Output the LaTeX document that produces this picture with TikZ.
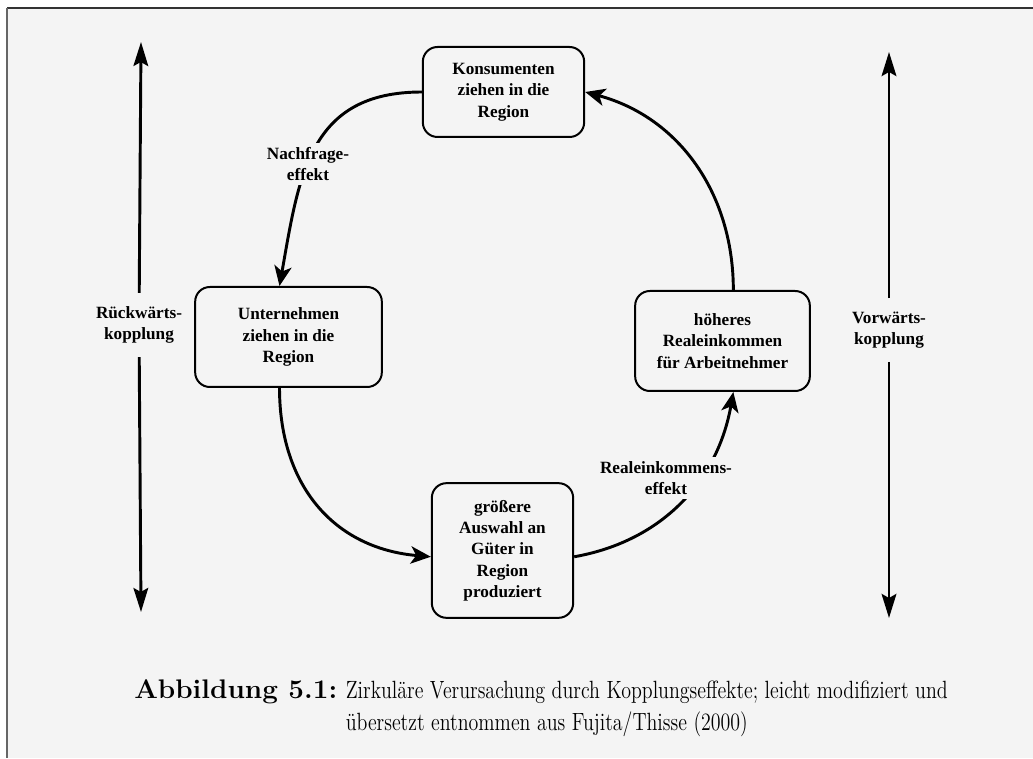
\documentclass[tikz,border=0pt]{standalone}
\usepackage{fontspec}
\usepackage{graphicx}
\newfontfamily\diafont{Liberation Serif}
\usetikzlibrary{arrows.meta}
\definecolor{bg}{gray}{0.955}
\tikzset{
  box/.style={draw, line width=1.5pt, rounded corners=11pt, align=center,
    font=\diafont\bfseries\fontsize{12.9}{16}\selectfont, inner sep=2pt},
  lab/.style={align=center, font=\diafont\bfseries\fontsize{12.9}{16}\selectfont,
    fill=bg, inner sep=3pt},
  sidelab/.style={align=center, font=\diafont\bfseries\fontsize{12.9}{16}\selectfont,
    inner xsep=2pt, inner ysep=10pt},
  arr/.style={line width=2.2pt, -{Stealth[length=15pt,width=13pt,inset=4pt]}},
  dbl/.style={line width=2.2pt, -{Stealth[length=18pt,width=11pt,inset=3pt]}},
  frameline/.style={line width=1.6pt},
  captext/.style={anchor=base west, inner sep=0pt},
}
\begin{document}
\begin{tikzpicture}[x=0.75pt,y=0.75pt]
\useasboundingbox (0,0) rectangle (1033,758);
\fill[bg] (7,0) rectangle (1033,750);
\draw[frameline, black!80] (7,750) -- (1033,750);
\draw[frameline, black!60] (7,750) -- (7,0);

% boxes
\node[box, minimum width=121pt, minimum height=67.5pt] (K) at (503.5,666) {Konsumenten\\ziehen in die\\Region};
\node[box, minimum width=140pt, minimum height=75pt] (U) at (288.5,421) {Unternehmen\\ziehen in die\\Region};
\node[box, minimum width=131pt, minimum height=75pt] (H) at (722.5,417) {höheres\\Realeinkommen\\für Arbeitnehmer};
\node[box, minimum width=106pt, minimum height=101pt] (G) at (502.5,207.5) {größere\\Auswahl an\\Güter in\\Region\\produziert};

% circular arrows
\draw[arr] (K.west) to[out=180, in=80, looseness=1.2] (U.100);
\draw[arr] (U.260) to[out=270, in=175, looseness=1.1] (G.185);
\draw[arr] (G.355) to[out=10, in=260] (H.282);
\draw[arr] (H.78) to[out=90, in=-15] (K.east);

% effect labels
\node[lab] (NF) at (308,594) {Nachfrage-\\effekt};
\node[lab] (RE) at (666,280) {Realeinkommens-\\effekt};

% side arrows
\node[sidelab] (LL) at (139,433) {Rückwärts-\\kopplung};
\coordinate (LT) at (141,716);
\coordinate (LB) at (141,146);
\draw[dbl] (LL) -- (LT);
\draw[dbl] (LL) -- (LB);

\node[sidelab] (RL) at (889,428) {Vorwärts-\\kopplung};
\coordinate (RT) at (889,706);
\coordinate (RB) at (889,140);
\draw[dbl] (RL) -- (RT);
\draw[dbl] (RL) -- (RB);

% caption
\node[captext] (cap) at (134,60)
  {\scalebox{1.45}[1.4]{\fontsize{14.4}{17}\selectfont\bfseries Abbildung 5.1:}};
\node[captext] (cap1) at ([xshift=6pt]cap.base east)
  {\scalebox{1.04}[1.3]{\fontsize{14.4}{17}\selectfont Zirkuläre Verursachung durch Kopplungseffekte; leicht modifiziert und}};
\node[captext] (cap2) at ([yshift=-24.75pt]cap1.base west)
  {\scalebox{1.04}[1.3]{\fontsize{14.4}{17}\selectfont übersetzt entnommen aus Fujita/Thisse (2000)}};
\end{tikzpicture}
\end{document}
